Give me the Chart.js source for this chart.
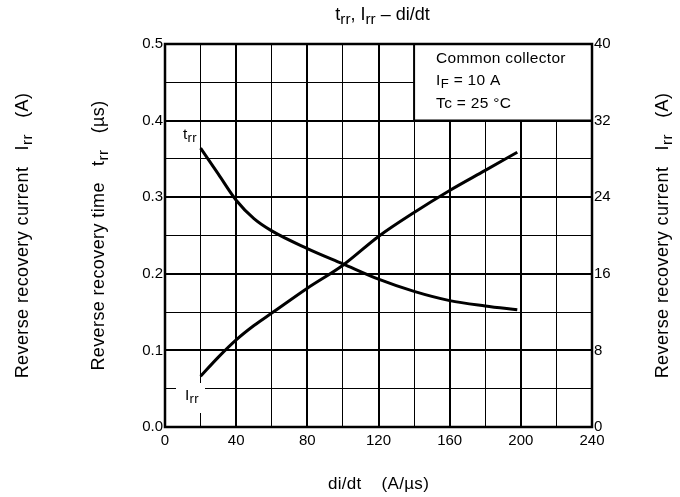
<!DOCTYPE html>
<html><head><meta charset="utf-8">
<script src="https://cdn.jsdelivr.net/npm/chart.js@4.4.1/dist/chart.umd.min.js"></script>
<style>html,body{margin:0;padding:0;background:#fff}#wrap{width:680px;height:497px}</style>
</head><body><div id="wrap"><canvas id="c"></canvas></div>
<script>
const diDt = [20, 30, 40, 50, 60, 80, 100, 120, 140, 160, 180, 198];
const trr  = [0.364, 0.330, 0.296, 0.272, 0.256, 0.233, 0.213, 0.193, 0.177, 0.165, 0.158, 0.153];
const irr  = [5.3, 7.3, 9.1, 10.6, 11.9, 14.5, 16.9, 19.9, 22.4, 24.7, 26.8, 28.7];
const xTicks = [0, 40, 80, 120, 160, 200, 240];
const yLeftTicks = [0.0, 0.1, 0.2, 0.3, 0.4, 0.5];
const yRightTicks = [0, 8, 16, 24, 32, 40];

const FONT = '"Liberation Sans", Arial, sans-serif';
const SUB = 0.85;

function setLS(ctx, ls) { if ('letterSpacing' in ctx) ctx.letterSpacing = ls + 'px'; }
function richWidth(ctx, parts, size, ls) {
  let w = 0; setLS(ctx, ls);
  for (const p of parts) { ctx.font = (p.sub ? size*SUB : size) + 'px ' + FONT; w += ctx.measureText(p.t).width; }
  return w;
}
function drawRich(ctx, parts, x, y, size, align, ls) {
  ls = ls || 0;
  const w = richWidth(ctx, parts, size, ls);
  let cx = align === 'center' ? x - w/2 : (align === 'right' ? x - w : x);
  ctx.textAlign = 'left'; ctx.textBaseline = 'alphabetic'; ctx.fillStyle = '#000';
  setLS(ctx, ls);
  for (const p of parts) {
    ctx.font = (p.sub ? size*SUB : size) + 'px ' + FONT;
    ctx.fillText(p.t, cx, p.sub ? y + size*0.22 : y);
    cx += ctx.measureText(p.t).width;
  }
  setLS(ctx, 0);
}
function drawRotRich(ctx, parts, x, y, size, ls) {
  ctx.save(); ctx.translate(x, y); ctx.rotate(-Math.PI/2);
  drawRich(ctx, parts, 0, size*0.35, size, 'center', ls); ctx.restore();
}

const overlay = {
  id: 'overlay',
  beforeDatasetsDraw(chart) {
    const ctx = chart.ctx, xs = chart.scales.x, ys = chart.scales.y;
    const x0 = xs.getPixelForValue(140), x1 = xs.getPixelForValue(240);
    const y0 = ys.getPixelForValue(0.5), y1 = ys.getPixelForValue(0.4);
    ctx.save();
    ctx.fillStyle = '#fff'; ctx.fillRect(x0, y0, x1 - x0, y1 - y0);
    ctx.strokeStyle = '#000'; ctx.lineWidth = 2;
    ctx.beginPath(); ctx.moveTo(x0, y0); ctx.lineTo(x0, y1); ctx.lineTo(x1, y1); ctx.stroke();
    drawRich(ctx, [{t:'Common collector'}], x0 + 22, y0 + 19, 15.5, 'left', 0.3);
    drawRich(ctx, [{t:'I'},{t:'F',sub:true},{t:' = 10 A'}], x0 + 22, y0 + 41, 15.5, 'left', 0.3);
    drawRich(ctx, [{t:'Tc = 25 °C'}], x0 + 22, y0 + 64, 15.5, 'left', 0.3);
    ctx.fillStyle = '#fff'; ctx.fillRect(176, 383, 29, 30);
    ctx.restore();
  },
  afterDraw(chart) {
    const ctx = chart.ctx, xs = chart.scales.x, ys = chart.scales.y;
    ctx.save();
    ctx.strokeStyle = '#000'; ctx.lineWidth = 2.5;
    ctx.strokeRect(xs.left, ys.top, xs.right - xs.left, ys.bottom - ys.top);
    const cxm = (xs.left + xs.right) / 2;
    drawRich(ctx, [{t:'t'},{t:'rr',sub:true},{t:', I'},{t:'rr',sub:true},{t:' – di/dt'}], cxm + 4, 20, 18, 'center', 0);
    drawRich(ctx, [{t:'di/dt    (A/µs)'}], cxm, 489, 17, 'center', 0.3);
    const cym = (ys.top + ys.bottom) / 2;
    drawRotRich(ctx, [{t:'Reverse recovery current   I'},{t:'rr',sub:true},{t:'   (A)'}], 22, cym, 18, 0.4);
    drawRotRich(ctx, [{t:'Reverse recovery time   t'},{t:'rr',sub:true},{t:'   (µs)'}], 98, cym, 18, 0.4);
    drawRotRich(ctx, [{t:'Reverse recovery current   I'},{t:'rr',sub:true},{t:'   (A)'}], 662, cym, 18, 0.4);
    drawRich(ctx, [{t:'t'},{t:'rr',sub:true}], 183, 139, 15.5, 'left', 0.3);
    drawRich(ctx, [{t:'I'},{t:'rr',sub:true}], 185, 400, 15.5, 'left', 0.3);
    ctx.restore();
  }
};

new Chart(document.getElementById('c'), {
  type: 'line',
  data: {
    datasets: [
      { label: 'trr', data: diDt.map((x, i) => ({x, y: trr[i]})), yAxisID: 'y',
        borderColor: '#000', borderWidth: 3, pointRadius: 0, cubicInterpolationMode: 'monotone', fill: false },
      { label: 'Irr', data: diDt.map((x, i) => ({x, y: irr[i]})), yAxisID: 'y2',
        borderColor: '#000', borderWidth: 3, pointRadius: 0, cubicInterpolationMode: 'monotone', fill: false }
    ]
  },
  options: {
    responsive: true, maintainAspectRatio: false, animation: false,
    layout: { padding: { top: 44, left: 0, right: 0, bottom: 0 } },
    plugins: { legend: { display: false }, tooltip: { enabled: false }, title: { display: false } },
    scales: {
      x: {
        type: 'linear', min: 0, max: 240,
        afterFit(s) { s.height = 70; },
        afterBuildTicks(s) { s.ticks = []; for (let v = 0; v <= 240; v += 20) s.ticks.push({value: v}); },
        ticks: { padding: 5, color: '#000', font: { family: FONT, size: 15 }, maxRotation: 0, autoSkip: false,
          callback: v => xTicks.includes(v) ? String(v) : '' },
        grid: { color: '#000', lineWidth: c => (c.tick && c.tick.value % 40 === 0) ? 2 : 1, drawTicks: false },
        border: { display: false }
      },
      y: {
        type: 'linear', position: 'left', min: 0, max: 0.5,
        afterFit(s) { s.width = 165; },
        afterBuildTicks(s) { s.ticks = []; for (let i = 0; i <= 10; i++) s.ticks.push({value: i * 0.05}); },
        ticks: { padding: 2, color: '#000', font: { family: FONT, size: 15 }, autoSkip: false,
          callback: v => { const k = Math.round(v * 100); return k % 10 === 0 ? (k / 100).toFixed(1) : ''; } },
        grid: { color: '#000', lineWidth: c => (c.tick && Math.round(c.tick.value * 100) % 10 === 0) ? 2 : 1, drawTicks: false },
        border: { display: false }
      },
      y2: {
        type: 'linear', position: 'right', min: 0, max: 40,
        afterFit(s) { s.width = 88; },
        afterBuildTicks(s) { s.ticks = yRightTicks.map(v => ({value: v})); },
        ticks: { padding: 2, color: '#000', font: { family: FONT, size: 15 }, autoSkip: false },
        grid: { display: false, drawTicks: false },
        border: { display: false }
      }
    }
  },
  plugins: [overlay]
});
</script></body></html>
